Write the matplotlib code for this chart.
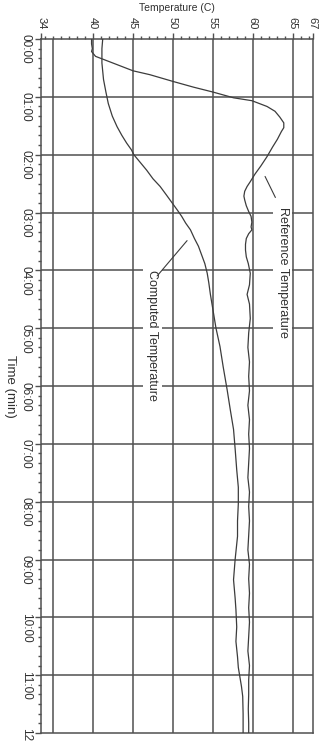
import matplotlib.pyplot as plt
import numpy as np

plt.rcParams['font.family'] = ['Liberation Sans', 'DejaVu Sans']

# time in minutes, temperature in C
ref_time = [0, 5, 10, 13, 18, 25, 33, 37, 44, 50, 55, 61, 64, 70, 75, 81, 87, 92, 96,
            104, 112, 122, 132, 140, 148, 153, 158, 163, 167, 173, 179, 184, 190, 195,
            198, 202, 207, 213, 219, 226, 233, 243, 255, 265, 275, 290, 305, 320, 335,
            350, 365, 380, 395, 410, 425, 440, 455, 470, 485, 500, 515, 530, 545, 560,
            575, 590, 605, 620, 635, 650, 665, 680, 695, 710, 720]
ref_temp = [39.8, 39.8, 39.9, 39.8, 40.3, 42.5, 45.0, 47.1, 50.0, 52.6, 55.0, 57.6, 59.9,
            61.8, 62.8, 63.4, 63.9, 63.9, 63.6, 63.1, 62.5, 61.8, 61.0, 60.3, 59.7, 59.3,
            59.0, 58.9, 59.0, 59.2, 59.5, 59.8, 59.9, 59.8, 59.9, 59.5, 59.2, 59.1, 59.1,
            59.2, 59.45, 59.7, 59.6, 59.3, 59.6, 59.7, 59.5, 59.4, 59.6, 59.5, 59.6, 59.4,
            59.6, 59.5, 59.6, 59.5, 59.4, 59.6, 59.5, 59.6, 59.5, 59.4, 59.6, 59.5, 59.6,
            59.5, 59.6, 59.5, 59.4, 59.6, 59.5, 59.5, 59.45, 59.5, 59.5]

comp_time = [0, 10, 25, 42, 55, 67, 80, 91, 100, 108, 115, 120, 126, 136, 145, 153, 162,
             170, 178, 184, 191, 198, 207, 215, 224, 233, 243, 253, 265, 285, 300, 319,
             340, 364, 385, 405, 425, 447, 465, 482, 500, 516, 540, 561, 580, 592, 610,
             625, 641, 652, 662, 672, 682, 700, 720]
comp_temp = [41.2, 41.1, 41.1, 41.3, 41.6, 41.9, 42.4, 43.0, 43.6, 44.2, 44.8, 45.1, 45.7,
             46.7, 47.5, 48.4, 49.2, 49.9, 50.6, 51.1, 51.6, 52.2, 52.7, 53.2, 53.6, 54.0,
             54.3, 54.5, 54.7, 55.1, 55.4, 55.9, 56.3, 56.8, 57.2, 57.6, 57.8, 58.0, 58.2,
             58.2, 58.1, 58.1, 57.8, 57.6, 57.8, 57.9, 58.0, 57.9, 58.1, 58.2, 58.4, 58.6,
             58.75, 58.8, 58.8]

temp_ticks = [33.5, 40, 45, 50, 55, 60, 65, 67.5]
temp_labels = ['34', '40', '45', '50', '55', '60', '65', '67']
temp_grid = [35, 40, 45, 50, 55, 60, 65]
time_ticks = list(range(0, 721, 60))
time_labels = [f"{m // 60:02d}:00" for m in time_ticks]

line_col = '#3c3c3c'
grid_col = '#505050'

fig = plt.figure(figsize=(3.22, 7.42), dpi=100)
ax = fig.add_axes([41.3 / 322, 1 - 733 / 742, (312.5 - 41.3) / 322, (733 - 39) / 742])

ax.set_xlim(33.5, 67.5)
ax.set_ylim(720, 0)

for g in temp_grid:
    ax.axvline(g, color=grid_col, lw=1.1, zorder=1)
for t in time_ticks[1:-1]:
    ax.axhline(t, color=grid_col, lw=1.1, zorder=1)

ax.plot(ref_temp, ref_time, color=line_col, lw=0.9, zorder=3)
ax.plot(comp_temp, comp_time, color=line_col, lw=0.9, zorder=3)

ax.xaxis.tick_top()
ax.xaxis.set_label_position('top')
ax.set_xticks(temp_ticks)
ax.set_xticklabels(temp_labels)
ax.set_xticks(np.arange(34, 68, 1), minor=True)
ax.set_yticks(time_ticks)
ax.set_yticklabels(time_labels)
ax.set_yticks(np.arange(0, 721, 10), minor=True)

ax.tick_params(axis='both', which='both', direction='out', color=grid_col)
ax.tick_params(axis='both', which='major', length=4, width=1,
               labelrotation=-90, pad=3, labelcolor='#303030')
ax.tick_params(axis='x', which='major', labelsize=8)
ax.tick_params(axis='y', which='major', labelsize=8.5)
ax.tick_params(axis='both', which='minor', length=2.5, width=1)
for s in ax.spines.values():
    s.set_color(grid_col)
    s.set_linewidth(1.1)

ax.set_xlabel('Temperature (C)', fontsize=7.5, labelpad=4, color='#303030')
ax.set_ylabel('Time (min)', fontsize=9.5, rotation=-90, labelpad=7, va='center',
              color='#303030')

box = dict(facecolor='white', edgecolor='none', pad=2.5)
ax.text(63.8, 242, 'Reference Temperature', rotation=-90, fontsize=9,
        ha='center', va='center', bbox=box, zorder=4, color='#303030')
ax.annotate('', xy=(61.4, 140), xytext=(63.0, 167),
            arrowprops=dict(arrowstyle='-', color=line_col, lw=0.8), zorder=4)
ax.text(47.4, 308, 'Computed Temperature', rotation=-90, fontsize=9,
        ha='center', va='center', bbox=box, zorder=4, color='#303030')
ax.annotate('', xy=(52.0, 207), xytext=(47.8, 248),
            arrowprops=dict(arrowstyle='-', color=line_col, lw=0.8), zorder=4)

fig.savefig('out.png', dpi=100)
